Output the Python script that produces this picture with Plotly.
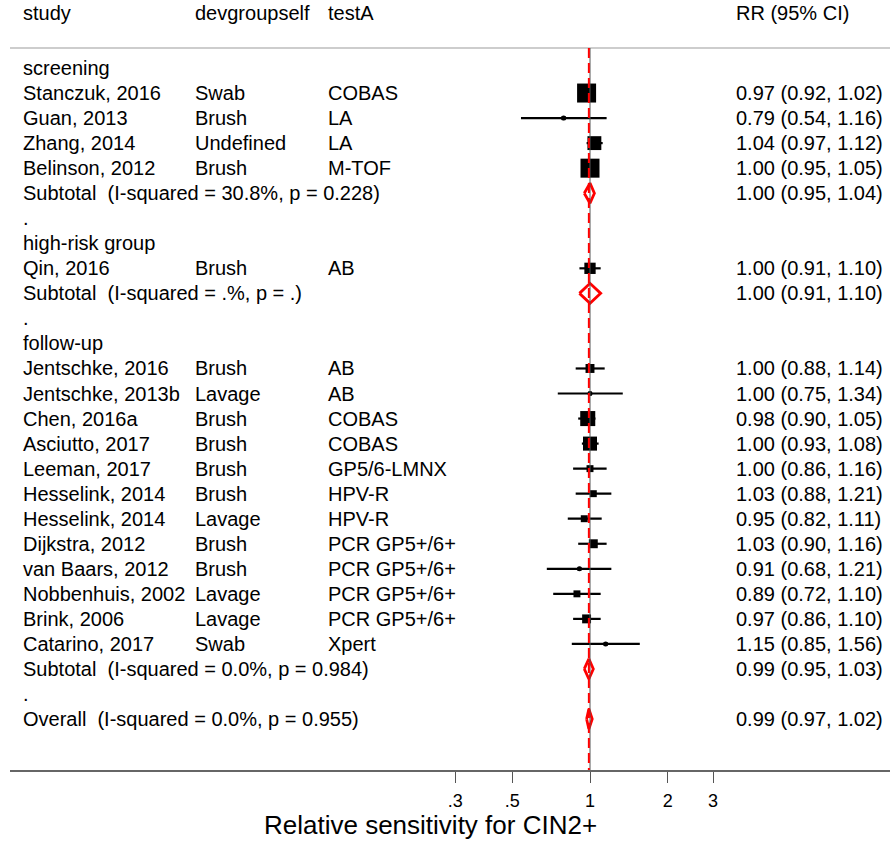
import math
import plotly.graph_objects as go

# ---- data -------------------------------------------------------------
groups = ["screening", "high-risk group", "follow-up"]

study = ["Stanczuk, 2016", "Guan, 2013", "Zhang, 2014", "Belinson, 2012",
         "Qin, 2016",
         "Jentschke, 2016", "Jentschke, 2013b", "Chen, 2016a", "Asciutto, 2017",
         "Leeman, 2017", "Hesselink, 2014", "Hesselink, 2014", "Dijkstra, 2012",
         "van Baars, 2012", "Nobbenhuis, 2002", "Brink, 2006", "Catarino, 2017"]
group_idx = [0, 0, 0, 0, 1, 2, 2, 2, 2, 2, 2, 2, 2, 2, 2, 2, 2]
device = ["Swab", "Brush", "Undefined", "Brush", "Brush",
          "Brush", "Lavage", "Brush", "Brush", "Brush", "Brush", "Lavage",
          "Brush", "Brush", "Lavage", "Lavage", "Swab"]
test = ["COBAS", "LA", "LA", "M-TOF", "AB",
        "AB", "AB", "COBAS", "COBAS", "GP5/6-LMNX", "HPV-R", "HPV-R",
        "PCR GP5+/6+", "PCR GP5+/6+", "PCR GP5+/6+", "PCR GP5+/6+", "Xpert"]
rr = [0.97, 0.79, 1.04, 1.00, 1.00,
      1.00, 1.00, 0.98, 1.00, 1.00, 1.03, 0.95, 1.03, 0.91, 0.89, 0.97, 1.15]
lo = [0.92, 0.54, 0.97, 0.95, 0.91,
      0.88, 0.75, 0.90, 0.93, 0.86, 0.88, 0.82, 0.90, 0.68, 0.72, 0.86, 0.85]
hi = [1.02, 1.16, 1.12, 1.05, 1.10,
      1.14, 1.34, 1.05, 1.08, 1.16, 1.21, 1.11, 1.16, 1.21, 1.10, 1.10, 1.56]
weight = [15.0, 0.7, 8.0, 15.0, 5.3,
          3.3, 0.6, 9.4, 8.2, 2.0, 2.0, 2.0, 3.3, 0.6, 2.0, 3.3, 0.6]

sub_rr = [1.00, 1.00, 0.99]
sub_lo = [0.95, 0.91, 0.95]
sub_hi = [1.04, 1.10, 1.03]
sub_i2 = ["30.8%", ".%", "0.0%"]
sub_p = ["0.228", ".", "0.984"]

overall_rr, overall_lo, overall_hi = 0.99, 0.97, 1.02
overall_i2, overall_p = "0.0%", "0.955"

tick_vals = [0.3, 0.5, 1, 2, 3]
tick_text = [".3", ".5", "1", "2", "3"]

headers = ["study", "devgroupself", "testA", "RR (95% CI)"]
x_title = "Relative sensitivity for CIN2+"

# ---- layout geometry ---------------------------------------------------
W, H = 890, 842
ML, MB = 10, 72
ROW0, ROWH = 68.0, 25.04          # pixel centre of first row, row pitch
PLOT_BOTTOM = H - MB
PX_PER_DEC = 112.0 * math.log(10)  # pixels per decade on the log axis
NULL_PX = 590.0                    # pixel of RR = 1
NBSP = "\u00a0"


def row_of_px(py):
    return (py - ROW0) / ROWH


def paper_x(px):
    return (px - ML) / (W - ML)


def ci_text(e, l, h):
    return f"{e:.2f} ({l:.2f}, {h:.2f})"


FONT = "Liberation Sans, Arial, sans-serif"
COL_X = [21, 193, 326, 734]
FS = 20

# build rows
rows = []   # (kind, payload)
for g, gname in enumerate(groups):
    rows.append(("label", gname))
    for k in range(len(study)):
        if group_idx[k] == g:
            rows.append(("study", k))
    rows.append(("sub", g))
    rows.append(("label", "."))
rows.append(("overall", None))

annotations = []


def add_text(px, row, txt, size=FS, anchor="left"):
    annotations.append(dict(
        x=paper_x(px), xref="paper", y=row, yref="y", text=txt,
        showarrow=False, xanchor=anchor, yanchor="middle",
        font=dict(family=FONT, size=size, color="black")))


for c, h in enumerate(headers):
    add_text(COL_X[c], row_of_px(13), h)

ci_x, ci_y = [], []
box_x, box_y, box_s = [], [], []
diamonds = []
wmax = max(weight)
for i, (kind, p) in enumerate(rows):
    if kind == "label":
        add_text(COL_X[0], i, p)
    elif kind == "study":
        add_text(COL_X[0], i, study[p])
        add_text(COL_X[1], i, device[p])
        add_text(COL_X[2], i, test[p])
        add_text(COL_X[3], i, ci_text(rr[p], lo[p], hi[p]))
        ci_x += [lo[p], hi[p], None]
        ci_y += [i, i, None]
        box_x.append(rr[p])
        box_y.append(i)
        box_s.append(19 * math.sqrt(weight[p] / wmax))
    elif kind == "sub":
        add_text(COL_X[0], i, f"Subtotal{NBSP} (I-squared = {sub_i2[p]}, p = {sub_p[p]})")
        add_text(COL_X[3], i, ci_text(sub_rr[p], sub_lo[p], sub_hi[p]))
        diamonds.append((sub_rr[p], sub_lo[p], sub_hi[p], i))
    else:
        add_text(COL_X[0], i, f"Overall{NBSP} (I-squared = {overall_i2}, p = {overall_p})")
        add_text(COL_X[3], i, ci_text(overall_rr, overall_lo, overall_hi))
        diamonds.append((overall_rr, overall_lo, overall_hi, i))

fig = go.Figure()

# confidence intervals
fig.add_trace(go.Scatter(x=ci_x, y=ci_y, mode="lines",
                         line=dict(color="black", width=2.2),
                         hoverinfo="skip", showlegend=False))
# weight boxes
fig.add_trace(go.Scatter(x=box_x, y=box_y, mode="markers",
                         marker=dict(symbol="square", size=box_s, color="black",
                                     opacity=1, line=dict(width=0)),
                         showlegend=False))
# point estimates
fig.add_trace(go.Scatter(x=box_x, y=box_y, mode="markers",
                         marker=dict(symbol="circle", size=5, color="black", opacity=1),
                         showlegend=False))
# pooled diamonds
for e, l, h, i in diamonds:
    fig.add_trace(go.Scatter(x=[l, e, h, e, l], y=[i, i - 0.4, i, i + 0.4, i],
                             mode="lines", line=dict(color="red", width=2.8),
                             hoverinfo="skip", showlegend=False))

top_row = row_of_px(48)
y_top = row_of_px(0)
y_bot = row_of_px(PLOT_BOTTOM)

shapes = [
    # header rule
    dict(type="line", xref="paper", x0=0, x1=1, yref="y", y0=top_row, y1=top_row,
         line=dict(color="#bdbdbd", width=1.5)),
    # null line
    dict(type="line", xref="x", x0=1, x1=1, yref="y", y0=top_row, y1=y_bot,
         line=dict(color="#555555", width=1)),
    # overall estimate
    dict(type="line", xref="x", x0=overall_rr, x1=overall_rr,
         yref="y", y0=top_row, y1=y_bot,
         line=dict(color="red", width=2, dash="10px,5px")),
]

x_left = (ML - NULL_PX) / PX_PER_DEC
x_right = (W - NULL_PX) / PX_PER_DEC

annotations.append(dict(
    x=paper_x(430), xref="paper", y=-(825 - PLOT_BOTTOM) / PLOT_BOTTOM, yref="paper",
    text=x_title, showarrow=False, xanchor="center", yanchor="middle",
    font=dict(family=FONT, size=26, color="black")))

fig.update_layout(
    width=W, height=H,
    margin=dict(l=ML, r=0, t=0, b=MB),
    paper_bgcolor="white", plot_bgcolor="white",
    font=dict(family=FONT, size=FS, color="black"),
    xaxis=dict(type="log", range=[x_left, x_right], showgrid=False, zeroline=False,
               showline=True, linecolor="#666666", linewidth=2,
               ticks="outside", ticklen=11, tickwidth=1, tickcolor="#555555",
               tickvals=tick_vals, ticktext=tick_text, ticklabelstandoff=2,
               tickfont=dict(family=FONT, size=18, color="black")),
    yaxis=dict(range=[y_bot, y_top], showgrid=False, zeroline=False,
               showline=False, showticklabels=False, ticks=""),
    shapes=shapes,
    annotations=annotations,
)

fig.write_html("out.html")
